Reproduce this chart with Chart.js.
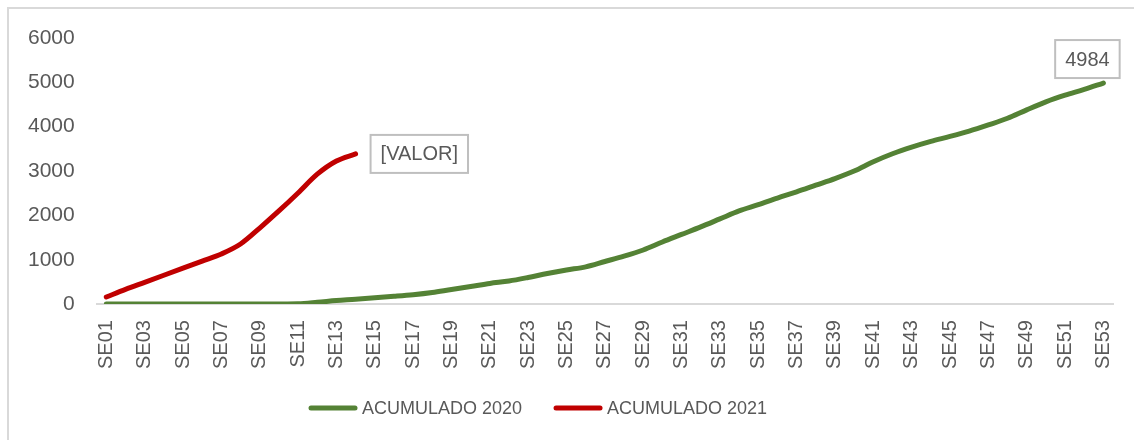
<!DOCTYPE html>
<html>
<head>
<meta charset="utf-8">
<script src="https://cdn.jsdelivr.net/npm/chart.js@4.4.1/dist/chart.umd.min.js"></script>
<style>
  html, body { margin: 0; padding: 0; background: #fff; }
  #wrap { position: relative; width: 1134px; height: 440px; }
  #frame {
    position: absolute; left: 7px; top: 7px; right: 0; bottom: 0;
    border-left: 2px solid #d9d9d9; border-top: 2px solid #d9d9d9;
    pointer-events: none;
  }
</style>
</head>
<body>
<div id="wrap">
  <canvas id="chart" width="1134" height="440"></canvas>
  <div id="frame"></div>
</div>
<script>
// DATA
const weeks = [];
for (let i = 1; i <= 53; i++) weeks.push('SE' + String(i).padStart(2, '0'));

const acum2020 = [
  0, 0, 0, 0, 0, 0, 1, 2, 3, 4,
  8, 40, 80, 110, 145, 175, 210, 260, 330, 395,
  465, 520, 600, 690, 770, 840, 960, 1080, 1220, 1400,
  1570, 1740, 1920, 2100, 2240, 2390, 2530, 2680, 2830, 3000,
  3210, 3390, 3540, 3670, 3780, 3900, 4040, 4190, 4380, 4560,
  4710, 4840, 4984
];

const acum2021 = [160, 330, 490, 650, 810, 970, 1130, 1354, 1715, 2100, 2506, 2930, 3228, 3386];

const yTicks = [0, 1000, 2000, 3000, 4000, 5000, 6000];

const labelText2020 = '4984';
const labelText2021 = '[VALOR]';

// Colors
const GREEN = '#548235';
const RED = '#c00000';
const TEXT = '#595959';
const FONT = "'Liberation Sans', Arial, sans-serif";

// ================================
// Boxed data labels at the last point
// ================================
const lastLabels = {
  id: 'lastLabels',
  afterDatasetsDraw(chart) {
    const ctx = chart.ctx;
    const specs = [
      { ds: 0, text: labelText2020, place: 'above' },
      { ds: 1, text: labelText2021, place: 'right' }
    ];
    ctx.save();
    ctx.font = '20px ' + FONT;
    specs.forEach(s => {
      const meta = chart.getDatasetMeta(s.ds);
      const pt = meta.data[meta.data.length - 1];
      if (!pt) return;
      const tw = ctx.measureText(s.text).width;
      const w = tw + 20, h = 38;
      let bx, by;
      if (s.place === 'above') {
        bx = pt.x - 16 - w / 2;
        by = pt.y - 5 - h;
      } else {
        bx = pt.x + 15;
        by = pt.y - h / 2;
      }
      ctx.fillStyle = '#ffffff';
      ctx.fillRect(bx, by, w, h);
      ctx.strokeStyle = '#bfbfbf';
      ctx.lineWidth = 2;
      ctx.strokeRect(bx, by, w, h);
      ctx.fillStyle = TEXT;
      ctx.textAlign = 'center';
      ctx.textBaseline = 'middle';
      ctx.fillText(s.text, bx + w / 2, by + h / 2 + 1);
    });
    ctx.restore();
  }
};

// ================================
// Legend drawn like the Excel one (line swatch + text)
// ================================
const lineLegend = {
  id: 'lineLegend',
  afterDraw(chart) {
    const ctx = chart.ctx;
    const y = 408;
    let x = 309;
    ctx.save();
    ctx.font = '18px ' + FONT;
    ctx.textBaseline = 'middle';
    ctx.textAlign = 'left';
    chart.data.datasets.forEach(ds => {
      ctx.strokeStyle = ds.borderColor;
      ctx.lineWidth = 5;
      ctx.lineCap = 'round';
      ctx.beginPath();
      ctx.moveTo(x + 2, y);
      ctx.lineTo(x + 46, y);
      ctx.stroke();
      ctx.fillStyle = TEXT;
      ctx.fillText(ds.label, x + 53, y + 1);
      x += 53 + ctx.measureText(ds.label).width + 32;
    });
    ctx.restore();
  }
};

new Chart(document.getElementById('chart'), {
  type: 'line',
  data: {
    labels: weeks,
    datasets: [
      {
        label: 'ACUMULADO 2020',
        data: acum2020,
        borderColor: GREEN,
        backgroundColor: GREEN,
        borderWidth: 5,
        pointRadius: 0,
        cubicInterpolationMode: 'monotone',
        borderCapStyle: 'round',
        fill: false
      },
      {
        label: 'ACUMULADO 2021',
        data: acum2021,
        borderColor: RED,
        backgroundColor: RED,
        borderWidth: 5,
        pointRadius: 0,
        cubicInterpolationMode: 'monotone',
        borderCapStyle: 'round',
        fill: false
      }
    ]
  },
  options: {
    responsive: false,
    animation: false,
    layout: { padding: { left: 6, right: 0, top: 38, bottom: 55 } },
    plugins: {
      legend: { display: false },
      tooltip: { enabled: false }
    },
    scales: {
      x: {
        offset: true,
        afterFit: scale => { scale.paddingRight = 21; },
        grid: { display: false, drawTicks: false },
        border: { display: true, color: '#d9d9d9', width: 2 },
        ticks: {
          autoSkip: false,
          maxRotation: 90,
          minRotation: 90,
          padding: 16,
          color: TEXT,
          font: { family: FONT, size: 20 },
          callback: function (val, idx) { return idx % 2 === 0 ? this.getLabelForValue(val) : ''; }
        }
      },
      y: {
        min: yTicks[0],
        max: yTicks[yTicks.length - 1],
        afterBuildTicks: axis => { axis.ticks = yTicks.map(v => ({ value: v })); },
        grid: { display: false, drawTicks: false },
        border: { display: false },
        ticks: {
          padding: 22,
          color: TEXT,
          font: { family: FONT, size: 21 },
          callback: v => String(v)
        }
      }
    }
  },
  plugins: [lastLabels, lineLegend]
});
</script>
</body>
</html>
